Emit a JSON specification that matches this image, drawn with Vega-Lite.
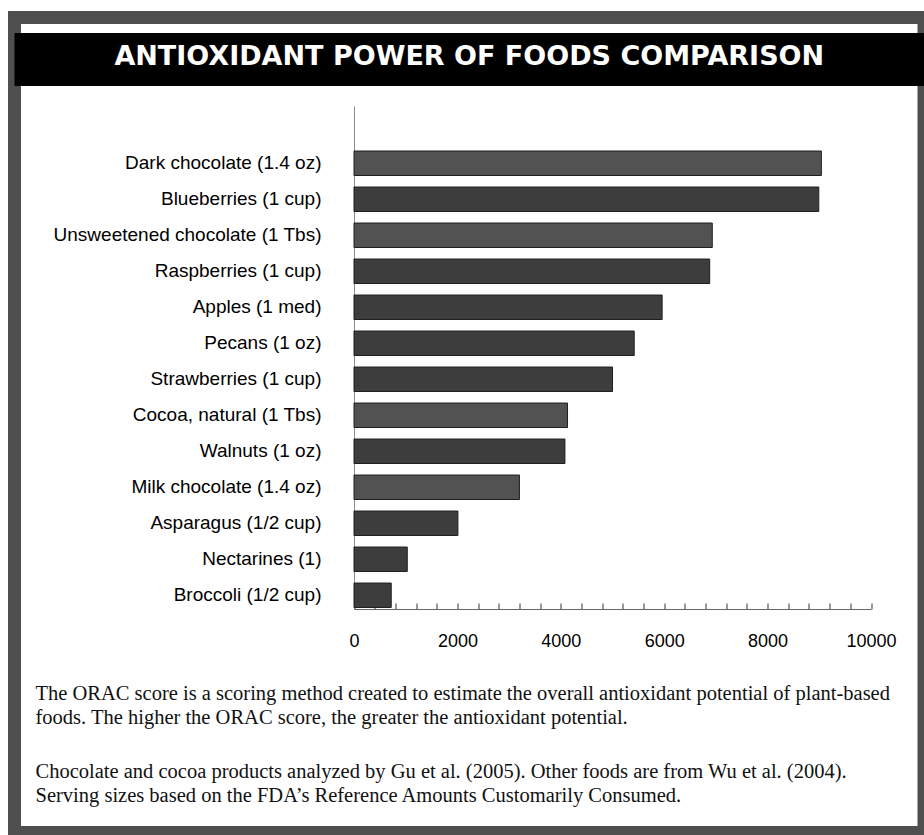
{
  "$schema": "https://vega.github.io/schema/vega-lite/v6.json",
  "width": 909.5,
  "height": 815,
  "autosize": "none",
  "padding": {"left": 14.5, "top": 17.5, "right": 0, "bottom": 2.5},
  "background": "white",
  "datasets": {
    "heading": [{"heading": "ANTIOXIDANT POWER OF FOODS COMPARISON"}],
    "foods": [
      {"food": "Dark chocolate (1.4 oz)", "orac": 9040, "group": "cocoa"},
      {"food": "Blueberries (1 cup)", "orac": 8990, "group": "other"},
      {"food": "Unsweetened chocolate (1 Tbs)", "orac": 6930, "group": "cocoa"},
      {"food": "Raspberries (1 cup)", "orac": 6880, "group": "other"},
      {"food": "Apples (1 med)", "orac": 5960, "group": "other"},
      {"food": "Pecans (1 oz)", "orac": 5420, "group": "other"},
      {"food": "Strawberries (1 cup)", "orac": 5000, "group": "other"},
      {"food": "Cocoa, natural (1 Tbs)", "orac": 4130, "group": "cocoa"},
      {"food": "Walnuts (1 oz)", "orac": 4080, "group": "other"},
      {"food": "Milk chocolate (1.4 oz)", "orac": 3200, "group": "cocoa"},
      {"food": "Asparagus (1/2 cup)", "orac": 2010, "group": "other"},
      {"food": "Nectarines (1)", "orac": 1030, "group": "other"},
      {"food": "Broccoli (1/2 cup)", "orac": 720, "group": "other"}
    ]
  },
  "layer": [
    {
      "data": {"name": "heading"},
      "encoding": {
        "y": {
          "field": "heading",
          "type": "nominal",
          "scale": {"type": "band", "range": [15.5, 68.5], "paddingInner": 0, "paddingOuter": 0},
          "axis": null
        }
      },
      "layer": [
        {"mark": {"type": "rect", "color": "black"}},
        {
          "mark": {
            "type": "text",
            "color": "white",
            "font": "DejaVu Sans",
            "fontSize": 27,
            "fontWeight": "bold",
            "baseline": "middle",
            "dy": -3
          },
          "encoding": {"text": {"field": "heading"}}
        }
      ]
    },
    {
      "data": {"name": "foods"},
      "mark": {"type": "bar", "stroke": "#1f1f1f", "strokeWidth": 1},
      "encoding": {
        "y": {
          "field": "food",
          "type": "nominal",
          "sort": null,
          "scale": {"range": [88.5, 591.5], "paddingInner": 0.32, "paddingOuter": 0.646, "align": 0.968},
          "axis": {
            "orient": "left",
            "offset": -339.5,
            "ticks": false,
            "labelPadding": 33,
            "labelFont": "Liberation Sans",
            "labelFontSize": 19,
            "labelColor": "black",
            "labelLimit": 0,
            "domainColor": "#8a8a8a",
            "title": [
              "The ORAC score is a scoring method created to estimate the overall antioxidant potential of plant-based",
              "foods. The higher the ORAC score, the greater the antioxidant potential."
            ],
            "titleAngle": 0,
            "titleX": -319,
            "titleY": 681.5,
            "titleAlign": "left",
            "titleBaseline": "alphabetic",
            "titleFont": "Liberation Serif",
            "titleFontSize": 20.5,
            "titleFontWeight": "normal",
            "titleColor": "#111111",
            "titleLineHeight": 24.5
          }
        },
        "x": {
          "field": "orac",
          "type": "quantitative",
          "scale": {"domain": [0, 10000], "range": [339.5, 856.5], "nice": false},
          "axis": {
            "orient": "bottom",
            "offset": -223.5,
            "grid": false,
            "values": [0, 400, 800, 1200, 1600, 2000, 2400, 2800, 3200, 3600, 4000, 4400, 4800, 5200, 5600, 6000, 6400, 6800, 7200, 7600, 8000, 8400, 8800, 9200, 9600, 10000],
            "format": "d",
            "labelExpr": "datum.value % 2000 === 0 ? datum.label : ''",
            "labelFlush": false,
            "labelOverlap": false,
            "tickSize": -6,
            "tickColor": "#333333",
            "domainColor": "#666666",
            "labelPadding": 29,
            "labelFont": "Liberation Sans",
            "labelFontSize": 18,
            "labelColor": "black",
            "title": [
              "Chocolate and cocoa products analyzed by Gu et al. (2005). Other foods are from Wu et al. (2004).",
              "Serving sizes based on the FDA’s Reference Amounts Customarily Consumed."
            ],
            "titleX": 20.5,
            "titleY": 168,
            "titleAlign": "left",
            "titleBaseline": "alphabetic",
            "titleFont": "Liberation Serif",
            "titleFontSize": 20.5,
            "titleFontWeight": "normal",
            "titleColor": "#111111",
            "titleLineHeight": 24.5
          }
        },
        "color": {
          "field": "group",
          "type": "nominal",
          "scale": {"domain": ["cocoa", "other"], "range": ["#525252", "#3d3d3d"]},
          "legend": null
        }
      }
    }
  ],
  "resolve": {"scale": {"y": "independent"}},
  "config": {
    "font": "Liberation Sans",
    "view": {"stroke": "#4f4f4f", "strokeWidth": 13, "fill": "white"}
  }
}
